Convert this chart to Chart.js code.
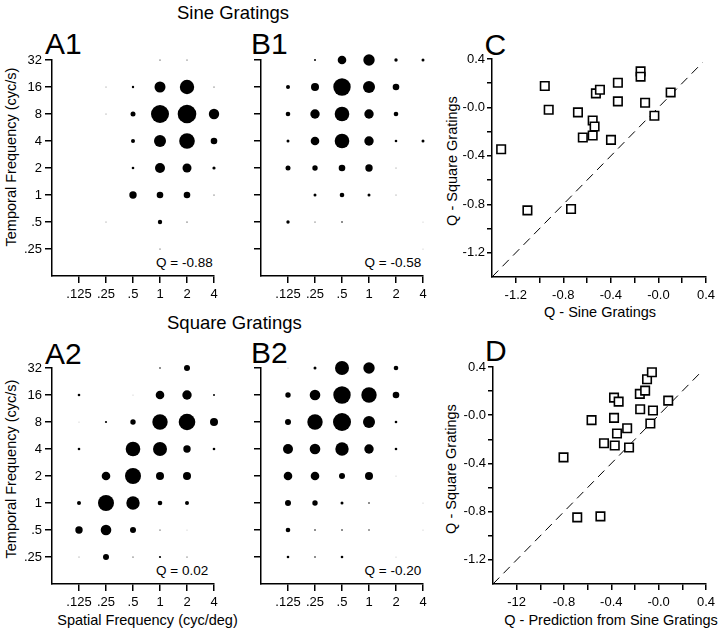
<!DOCTYPE html>
<html>
<head>
<meta charset="utf-8">
<script src="https://cdn.jsdelivr.net/npm/chart.js@4.4.0/dist/chart.umd.min.js"></script>
<style>
  body { margin: 0; background: #fff; }
  #fig { position: relative; width: 720px; height: 630px; overflow: hidden; background: #fff;
         font-family: "Liberation Sans", Arial, sans-serif; color: #000; }
  #fig canvas { position: absolute; }
  .t { position: absolute; white-space: nowrap; line-height: 1; }
  .c { transform: translate(-50%, -50%); }
  .v { transform: translate(-50%, -50%) rotate(-90deg); }
  .big { font-size: 30px; }
  .sec { font-size: 18.5px; }
  .q { font-size: 13.5px; }
  .ax { font-size: 14.5px; }
</style>
</head>
<body>
<div id="fig">
  <div class="t sec" style="left:177px;top:3.5px">Sine Gratings</div>
  <div class="t sec" style="left:167px;top:313.5px">Square Gratings</div>

  <div class="t big" style="left:45px;top:29px">A1</div>
  <div class="t big" style="left:251px;top:29px">B1</div>
  <div class="t big" style="left:484.5px;top:29.5px">C</div>
  <div class="t big" style="left:45px;top:339px">A2</div>
  <div class="t big" style="left:251px;top:338px">B2</div>
  <div class="t big" style="left:485px;top:336px">D</div>

  <div class="t q" style="left:156px;top:256px">Q = -0.88</div>
  <div class="t q" style="left:364.5px;top:256px">Q = -0.58</div>
  <div class="t q" style="left:156px;top:563.5px">Q = 0.02</div>
  <div class="t q" style="left:364.5px;top:563.5px">Q = -0.20</div>

  <div class="t ax v" style="left:11px;top:157px">Temporal Frequency (cyc/s)</div>
  <div class="t ax v" style="left:11px;top:469px">Temporal Frequency (cyc/s)</div>
  <div class="t ax c" style="left:147.5px;top:620px">Spatial Frequency (cyc/deg)</div>
  <div class="t ax v" style="left:452px;top:161px">Q - Square Gratings</div>
  <div class="t ax c" style="left:600px;top:312px">Q - Sine Gratings</div>
  <div class="t ax v" style="left:451px;top:469px">Q - Square Gratings</div>
  <div class="t ax c" style="left:611px;top:620px">Q - Prediction from Sine Gratings</div>
</div>

<script>
// axis categories (octave steps)
const spatialLabels = ['.125', '.25', '.5', '1', '2', '4'];
const temporalLabels = ['.25', '.5', '1', '2', '4', '8', '16', '32'];

// response maps, rows = temporal (.25 -> 32), cols = spatial (.125 -> 4)
const a1Resp = [
  [0, 0, 0, 0.5, 0, 0],
  [0, 0.4, 0, 2.2, 0.6, 0],
  [0, 0, 3.7, 3.3, 3.3, 0.5],
  [0, 0, 1.3, 5, 4.5, 1.6],
  [0, 0, 2, 6, 7.8, 3.3],
  [0, 0.4, 2.5, 9, 9.3, 5.2],
  [0, 0.4, 1.2, 5.5, 7.2, 0.5],
  [0, 0, 0, 0.6, 0.5, 0]
];
const b1Resp = [
  [0, 0, 0, 0, 0, 0.3],
  [1.7, 0.5, 0.8, 0, 0, 0.3],
  [0, 1.5, 2.3, 1.5, 0.4, 0],
  [2.5, 2.7, 3.3, 3.7, 0.4, 0],
  [1.5, 4.3, 7.3, 4.7, 1.3, 1.5],
  [2.3, 4.7, 7.3, 4.7, 2.3, 0],
  [2, 4, 8.7, 6, 3.3, 0],
  [0, 1, 4.3, 5.7, 1.7, 1.5]
];
const a2Resp = [
  [0.4, 3, 0.6, 1.1, 0.5, 0],
  [3.7, 5.3, 3, 0.6, 0.3, 0],
  [2, 8, 6.7, 2.3, 2, 0],
  [0, 4.3, 8, 4, 4, 0],
  [1.3, 0, 7.3, 7, 3.7, 1.3],
  [0.3, 1.1, 2.7, 7.7, 8.3, 4],
  [1.3, 0, 0.3, 4.3, 4.7, 1],
  [0, 0, 0, 0.8, 3, 0]
];
const b2Resp = [
  [1.3, 0.8, 1.3, 0, 0.3, 0],
  [2.3, 0.8, 0.8, 0.7, 0, 0.3],
  [3, 2.7, 1.5, 0.8, 0, 0.3],
  [4.3, 4.3, 3, 4, 0.3, 0],
  [5, 5.3, 6.7, 4.7, 1.3, 0],
  [3, 7.7, 9, 6, 1.3, 0],
  [2.7, 5.3, 8.7, 7.7, 3.3, 0],
  [0.3, 1.5, 7, 5.7, 2.3, 0]
];

// Q values per cell
const cSine = [-1.323, -1.102, -0.956, -0.923, -0.677, -0.735, -0.636, -0.553, -0.553, -0.537,
               -0.526, -0.492, -0.399, -0.341, -0.341, -0.150, -0.150, -0.112, -0.034, 0.103];
const cSquare = [-0.345, -0.85, 0.177, -0.019, -0.041, -0.839, -0.248, -0.108, -0.232, -0.157,
                 0.116, 0.146, -0.268, 0.204, 0.050, 0.298, 0.254, 0.039, -0.069, 0.124];
const dPred = [-0.804, -0.688, -0.492, -0.567, -0.462, -0.377, -0.338, -0.377, -0.371, -0.352,
               -0.266, -0.250, -0.159, -0.156, -0.114, -0.098, -0.057, -0.048, -0.070, 0.081];
const dSquare = [-0.350, -0.847, -0.839, -0.041, -0.232, 0.146, 0.113, -0.022, -0.251, -0.152,
                 -0.108, -0.268, 0.177, 0.050, 0.204, 0.298, 0.356, 0.039, -0.069, 0.121];
const unityLine = [-1.4, 0.37];

const qTickTenths = [-12, -8, -4, 0, 4];
const qTickLabels = ['-1.2', '-0.8', '-0.4', '-0.0', '0.4'];
const dXTickLabels = ['-12', '-0.8', '-0.4', '-0.0', '0.4'];

Chart.defaults.font.family = '"Liberation Sans", Arial, sans-serif';
Chart.defaults.font.size = 13;
Chart.defaults.color = '#000';

var fig = document.getElementById('fig');

function addCanvas(area, m) {
    const c = document.createElement('canvas');
    c.width = m.left + (area.R - area.L) + m.right;
    c.height = m.top + (area.B - area.T) + m.bottom;
    c.style.left = (area.L - m.left) + 'px';
    c.style.top = (area.T - m.top) + 'px';
    fig.appendChild(c);
    return c.getContext('2d');
}

// black axis with outward ticks, no tick at the corner
function axis(min, max, step, tickLen, pad, size, labelFn, isX) {
    return {
        type: 'linear', min: min, max: max,
        afterFit: s => { if (isX) s.height = size; else s.width = size; },
        border: { display: true, color: '#000', width: 1.5 },
        grid: {
            drawOnChartArea: false, drawTicks: true, tickLength: tickLen, lineWidth: 1.5,
            color: c => (c.tick && Math.abs(c.tick.value - min) < 1e-6) ? 'rgba(0,0,0,0)' : '#000'
        },
        ticks: { stepSize: step, autoSkip: false, maxRotation: 0, minRotation: 0, padding: pad, callback: labelFn }
    };
}

function gridPanel(area, resp, yLabels, yWidth) {
    const pts = [];
    resp.forEach((row, i) => row.forEach((v, j) => {
        if (v > 0) pts.push({ x: j, y: i, r: v });
    }));
    const m = { left: yWidth, top: 20, right: 12, bottom: 32 };
    new Chart(addCanvas(area, m), {
        type: 'bubble',
        data: { datasets: [{ data: pts, backgroundColor: '#000', borderWidth: 0, clip: false }] },
        options: {
            responsive: false, animation: false, events: [],
            layout: { padding: { left: 0, top: m.top, right: m.right, bottom: 0 } },
            plugins: { legend: { display: false }, tooltip: { enabled: false } },
            scales: {
                x: axis(-1, 5, 1, 7, 4, m.bottom, v => spatialLabels[v] || '', true),
                y: axis(-1, 7, 1, 7, 3, yWidth, v => yLabels ? (temporalLabels[v] || '') : '', false)
            }
        }
    });
}

function qLabel(labels) {
    return v => {
        const k = qTickTenths.indexOf(Math.round(v * 10));
        return k >= 0 ? labels[k] : '';
    };
}

function scatterPanel(area, xs, ys, xLabels) {
    const m = { left: 72, top: 15, right: 10, bottom: 32 };
    new Chart(addCanvas(area, m), {
        type: 'scatter',
        data: {
            datasets: [
                {
                    data: xs.map((x, i) => ({ x: x, y: ys[i] })),
                    pointStyle: 'rect', pointRadius: 6, backgroundColor: '#fff',
                    borderColor: '#000', borderWidth: 1.6, clip: false, order: 1
                },
                {
                    data: unityLine.map(v => ({ x: v, y: v })),
                    showLine: true, pointRadius: 0, borderColor: '#000', borderWidth: 1,
                    borderDash: [9, 6], order: 2
                }
            ]
        },
        options: {
            responsive: false, animation: false, events: [],
            layout: { padding: { left: 0, top: m.top, right: m.right, bottom: 0 } },
            plugins: { legend: { display: false }, tooltip: { enabled: false } },
            scales: {
                x: axis(-1.4, 0.4, 0.2, 6, 5, m.bottom, qLabel(xLabels), true),
                y: axis(-1.4, 0.4, 0.2, 5, 2, m.left, qLabel(qTickLabels), false)
            }
        }
    });
}

gridPanel({ L: 52, T: 60, R: 214, B: 276 }, a1Resp, true, 52);
gridPanel({ L: 261, T: 60, R: 423, B: 276 }, b1Resp, false, 20);
gridPanel({ L: 52, T: 368, R: 214, B: 584 }, a2Resp, true, 52);
gridPanel({ L: 261, T: 368, R: 423, B: 584 }, b2Resp, false, 20);

scatterPanel({ L: 492, T: 59, R: 710, B: 277 }, cSine, cSquare, qTickLabels);
scatterPanel({ L: 493, T: 367, R: 710, B: 584 }, dPred, dSquare, dXTickLabels);
</script>
</body>
</html>
